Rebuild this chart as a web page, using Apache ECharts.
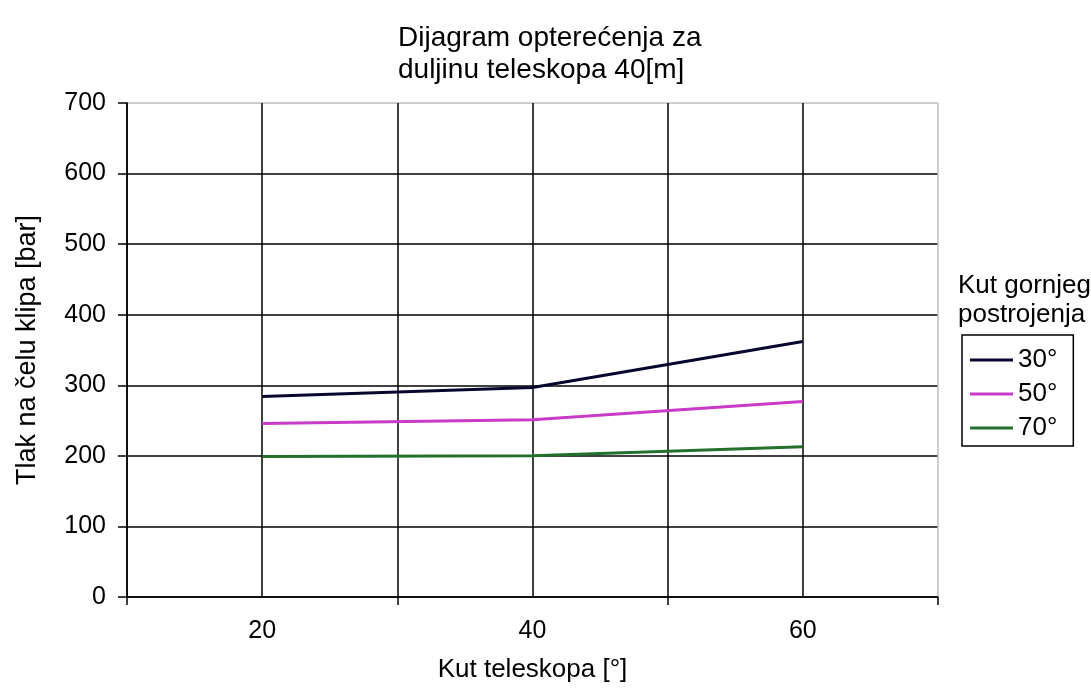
<!DOCTYPE html>
<html lang="hr" style="height: 100%">
  <head>
    <meta charset="utf-8">
    <title>Dijagram opterećenja</title>
  </head>
  <body style="height: 100%; margin: 0; background: #fff">
    <div id="container" style="width: 1091px; height: 688px;"></div>
    <script type="text/javascript" src="https://cdn.jsdelivr.net/npm/echarts@6/dist/echarts.min.js"></script>
    <script type="text/javascript">
      // podaci
      var kutTeleskopa = [20, 40, 60];
      var xLabels = [20, 40, 60];
      var serija30 = [284, 297, 362];
      var serija50 = [246, 251, 277];
      var serija70 = [199, 200, 213];
      var seriesNames = ['30°', '50°', '70°'];

      var font = 'Liberation Sans, Arial, sans-serif';

      function pairs(vals) {
        return kutTeleskopa.map(function (x, i) { return [x, vals[i]]; });
      }

      var dom = document.getElementById('container');
      var myChart = echarts.init(dom);

      var option = {
        animation: false,
        backgroundColor: '#fff',
        title: [
          {
            text: 'Dijagram opterećenja za\nduljinu teleskopa 40[m]',
            left: 393,
            top: 17,
            textStyle: { fontFamily: font, fontWeight: 'normal', fontSize: 28, lineHeight: 32, color: '#000' }
          },
          {
            text: 'Kut gornjeg\npostrojenja',
            left: 953,
            top: 266,
            textStyle: { fontFamily: font, fontWeight: 'normal', fontSize: 26, lineHeight: 29, color: '#000' }
          }
        ],
        legend: {
          data: seriesNames,
          orient: 'vertical',
          left: 962,
          top: 335,
          padding: [8, 16, 1, 8],
          itemGap: 0,
          itemWidth: 43,
          itemHeight: 3,
          icon: 'rect',
          borderColor: '#000',
          borderWidth: 1.5,
          textStyle: { fontFamily: font, fontSize: 26, lineHeight: 34, color: '#000' }
        },
        grid: {
          left: 127,
          right: 153,
          top: 103,
          bottom: 90
        },
        xAxis: [
          {
            type: 'value',
            min: 10,
            max: 70,
            interval: 10,
            name: 'Kut teleskopa [°]',
            nameLocation: 'middle',
            nameGap: 60,
            nameTextStyle: { fontFamily: font, fontSize: 26, color: '#000' },
            axisLine: { show: true, lineStyle: { color: '#000', width: 1.5 } },
            axisTick: { show: false },
            axisLabel: {
              margin: 22,
              fontFamily: font,
              fontSize: 25,
              color: '#000',
              formatter: function (v) { return xLabels.indexOf(v) >= 0 ? String(v) : ''; }
            },
            splitLine: {
              show: true,
              lineStyle: { color: ['#000', '#000', '#000', '#000', '#000', '#000', '#bdbdbd'], width: 1.5 }
            }
          },
          {
            type: 'value',
            position: 'bottom',
            min: 10,
            max: 70,
            interval: 20,
            axisLine: { show: false },
            axisTick: { show: true, inside: false, length: 8, lineStyle: { color: '#000', width: 1.5 } },
            axisLabel: { show: false },
            splitLine: { show: false }
          }
        ],
        yAxis: {
          type: 'value',
          min: 0,
          max: 700,
          interval: 100,
          name: 'Tlak na čelu klipa [bar]',
          nameLocation: 'middle',
          nameGap: 86,
          nameTextStyle: { fontFamily: font, fontSize: 27, color: '#000' },
          axisLine: { show: true, lineStyle: { color: '#000', width: 1.5 } },
          axisTick: { show: true, inside: false, length: 9, lineStyle: { color: '#000', width: 1.5 } },
          axisLabel: { margin: 21, fontFamily: font, fontSize: 25, color: '#000' },
          splitLine: {
            show: true,
            lineStyle: { color: ['#000', '#000', '#000', '#000', '#000', '#000', '#000', '#bdbdbd'], width: 1.5 }
          }
        },
        series: [
          {
            name: seriesNames[0],
            type: 'line',
            data: pairs(serija30),
            symbol: 'none',
            color: '#06062e',
            lineStyle: { width: 3 }
          },
          {
            name: seriesNames[1],
            type: 'line',
            data: pairs(serija50),
            symbol: 'none',
            color: '#c83ac8',
            lineStyle: { width: 3 }
          },
          {
            name: seriesNames[2],
            type: 'line',
            data: pairs(serija70),
            symbol: 'none',
            color: '#23702c',
            lineStyle: { width: 3 }
          }
        ]
      };

      if (option && typeof option === 'object') {
        myChart.setOption(option);
      }
    </script>
  </body>
</html>
